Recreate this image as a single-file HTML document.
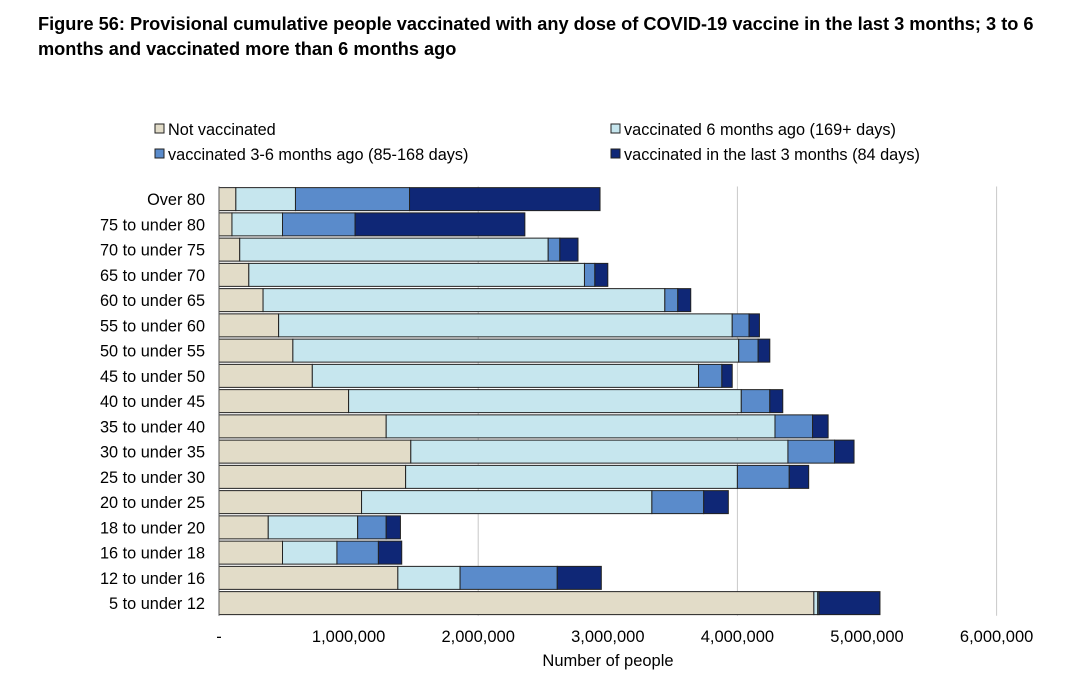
<!DOCTYPE html>
<html><head><meta charset="utf-8"><style>
body{margin:0;background:#fff;font-family:"Liberation Sans",sans-serif;}
#wrap{position:relative;width:1080px;height:688px;overflow:hidden;}
.title{position:absolute;left:38px;top:12px;font-size:18.2px;font-weight:bold;color:#000;line-height:25px;width:1040px;white-space:nowrap;}
</style></head><body>
<div id="wrap">
<div class="title">Figure 56: Provisional cumulative people vaccinated with any dose of COVID-19 vaccine in the last 3 months; 3 to 6<br>months and vaccinated more than 6 months ago</div>
<svg id="chart" width="1080" height="688" style="position:absolute;left:0;top:0"></svg>
</div>
<script>
const categories=["Over 80","75 to under 80","70 to under 75","65 to under 70","60 to under 65","55 to under 60","50 to under 55","45 to under 50","40 to under 45","35 to under 40","30 to under 35","25 to under 30","20 to under 25","18 to under 20","16 to under 18","12 to under 16","5 to under 12"];
const notVaccinated=[130000,100000,160000,230000,340000,460000,570000,720000,1000000,1290000,1480000,1440000,1100000,380000,490000,1380000,4590000];
const vac6plus=[460000,390000,2380000,2590000,3100000,3500000,3440000,2980000,3030000,3000000,2910000,2560000,2240000,690000,420000,480000,30000];
const vac3to6=[880000,560000,90000,80000,100000,130000,150000,180000,220000,290000,360000,400000,400000,220000,320000,750000,10000];
const vacLast3=[1470000,1310000,140000,100000,100000,80000,90000,80000,100000,120000,150000,150000,190000,110000,180000,340000,470000];
const xTicks=[0,1000000,2000000,3000000,4000000,5000000,6000000];
const xTickLabels=["-","1,000,000","2,000,000","3,000,000","4,000,000","5,000,000","6,000,000"];
const gridTicks=[2000000,4000000,6000000];
const seriesNames=["Not vaccinated","vaccinated 6 months ago (169+ days)","vaccinated 3-6 months ago (85-168 days)","vaccinated in the last 3 months (84 days)"];
const colors=["#e2dcc8","#c6e6ee","#5a8bcb","#0f2776"];
const series=[notVaccinated,vac6plus,vac3to6,vacLast3];

const svg=document.getElementById('chart');
const NS='http://www.w3.org/2000/svg';
const x0=219,pxPerUnit=129.6/1000000,top0=186.5,rowH=25.25,barH=23;
const X=v=>x0+v*pxPerUnit;
const Y=i=>top0+i*rowH;
function mk(t,a){const e=document.createElementNS(NS,t);for(const k in a)e.setAttribute(k,a[k]);svg.appendChild(e);return e;}
gridTicks.forEach(t=>{
 const g=mk('line',{x1:X(t),x2:X(t),y1:top0,y2:top0+17*rowH,stroke:'#c8c8c8','stroke-width':1});
 
 
});
xTicks.forEach((t,i)=>{
 const tl=mk('text',{x:X(t),y:642,'text-anchor':'middle','font-size':16.5,fill:'#000'});
 tl.textContent=xTickLabels[i];
 
 
});
categories.forEach((c,i)=>{
 let acc=0;
 series.forEach((s,j)=>{
  const r=mk('rect',{x:X(acc),y:Y(i)+(rowH-barH)/2,width:s[i]*pxPerUnit,height:barH,fill:colors[j],stroke:'#222','stroke-width':1});
  
  
  acc+=s[i];
 });
 const lb=mk('text',{x:205,y:Y(i)+rowH/2+6,'text-anchor':'end','font-size':16.3,fill:'#000'});
 lb.textContent=c;
 
 
});
const ax=mk('line',{x1:x0,x2:x0,y1:top0,y2:top0+17*rowH,stroke:'#555','stroke-width':1});


const xt=mk('text',{x:608,y:666,'text-anchor':'middle','font-size':16.5,fill:'#000'});
xt.textContent='Number of people';


const legPos=[[155,135],[611,135],[155,160],[611,160]];
seriesNames.forEach((n,j)=>{
 const [lx,ly]=legPos[j];
 const r=mk('rect',{x:lx,y:ly-11,width:9,height:9,fill:colors[j],stroke:'#222','stroke-width':1});
 
 
 const t=mk('text',{x:lx+13,y:ly,'font-size':16.3,fill:'#000'});
 t.textContent=n;
 
 
});
</script>
</body></html>
